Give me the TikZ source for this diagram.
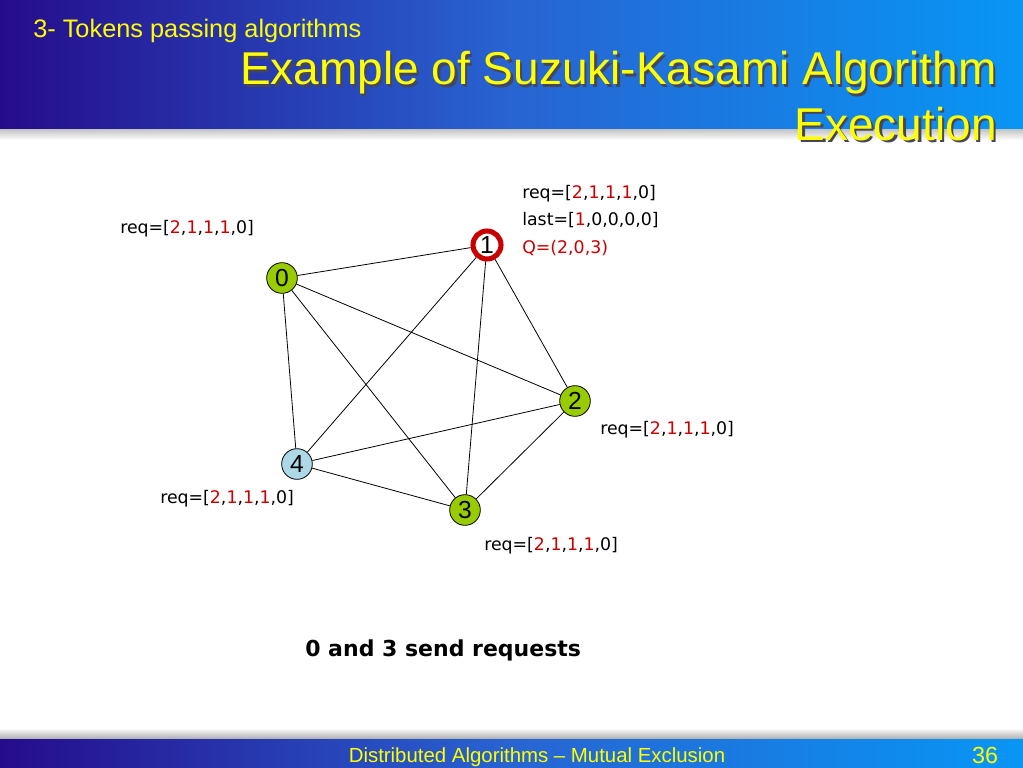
\documentclass[tikz,border=0pt]{standalone}
\usepackage{fontspec}
\setmainfont{Liberation Sans}
\newfontfamily\labfont{DejaVu Sans}
\usetikzlibrary{calc}
\definecolor{hdark}{RGB}{38,12,140}
\definecolor{hmid}{RGB}{40,100,210}
\definecolor{hlight}{RGB}{8,150,245}
\definecolor{ttl}{RGB}{255,255,0}
\definecolor{tsh}{RGB}{70,70,90}
\definecolor{rq}{RGB}{200,0,0}
\definecolor{green}{RGB}{153,204,0}
\definecolor{lblue}{RGB}{173,216,230}
\tikzset{
  pnode/.style={circle,draw=black,line width=0.6pt,minimum size=23pt,inner sep=0pt,font=\fontsize{18.5}{18.5}\selectfont},
  gnode/.style={pnode,fill=green},
  bnode/.style={pnode,fill=lblue},
  tnode/.style={pnode,fill=white,draw=rq,line width=3.8pt,minimum size=21pt},
  edge/.style={draw=black,line width=0.6pt},
  lab/.style={font=\labfont\fontsize{13}{20.5}\selectfont,inner sep=0pt,align=left},
}
\newcommand{\rr}[1]{\textcolor{rq}{#1}}
\newcommand{\shtext}[1]{\makebox[0pt][l]{\kern1.8pt\raisebox{-1.8pt}{\textcolor{tsh}{#1}}}#1}
\begin{document}
\begin{tikzpicture}[x=0.75pt,y=-0.75pt]
\useasboundingbox (0,0) rectangle (1023,767);
\fill[white] (0,0) rectangle (1023,767);
% header
\shade[top color=gray!60,bottom color=white] (0,126) rectangle (1023,140);
\shade[left color=hdark,right color=hlight,middle color=hmid] (0,0) rectangle (1023,128);
% footer
\shade[top color=white,bottom color=gray!70] (0,728) rectangle (1023,740);
\shade[left color=hdark,right color=hlight,middle color=hmid] (0,739) rectangle (1023,767);
\node[anchor=west,text=ttl,font=\fontsize{19}{19}\selectfont,inner sep=0pt] (sub) at (33,31) {3- Tokens passing algorithms};
\node[anchor=base east,text=ttl,font=\fontsize{34.5}{41.5}\selectfont,inner sep=0pt,align=right] (title) at (997,140) {\shtext{Example of Suzuki-Kasami Algorithm}\\\shtext{Execution}};
\node[text=ttl,font=\fontsize{15.3}{15.3}\selectfont,inner sep=0pt] (foot) at (537,757) {Distributed Algorithms -- Mutual Exclusion};
\node[text=ttl,font=\fontsize{17.5}{17.5}\selectfont,inner sep=0pt] (pg) at (985,755) {36};
% nodes
\node[gnode] (n0) at (282,278) {0};
\node[tnode] (n1) at (487,245) {1};
\node[gnode] (n2) at (575,401) {2};
\node[gnode] (n3) at (465,510) {3};
\node[bnode] (n4) at (297,464) {4};
% edges
\foreach \a/\b in {n0/n1,n0/n2,n0/n3,n0/n4,n1/n2,n1/n3,n1/n4,n2/n3,n2/n4,n3/n4}
  \draw[edge] (\a) -- (\b);
% labels
\node[lab,anchor=west] (l0) at (120,229) {req=[\rr{2},\rr{1},\rr{1},\rr{1},0]};
\node[lab,anchor=north west] (l1) at (522,185) {req=[\rr{2},\rr{1},\rr{1},\rr{1},0]\\last=[\rr{1},0,0,0,0]\\\rr{Q=(2,0,3)}};
\node[lab,anchor=west] (l2) at (600,430) {req=[\rr{2},\rr{1},\rr{1},\rr{1},0]};
\node[lab,anchor=west] (l4) at (160,499) {req=[\rr{2},\rr{1},\rr{1},\rr{1},0]};
\node[lab,anchor=west] (l3) at (484,546) {req=[\rr{2},\rr{1},\rr{1},\rr{1},0]};
\node[lab,anchor=west,font=\labfont\bfseries\fontsize{16.5}{16.5}\selectfont] (cap) at (305,650) {0 and 3 send requests};
\end{tikzpicture}
\end{document}
